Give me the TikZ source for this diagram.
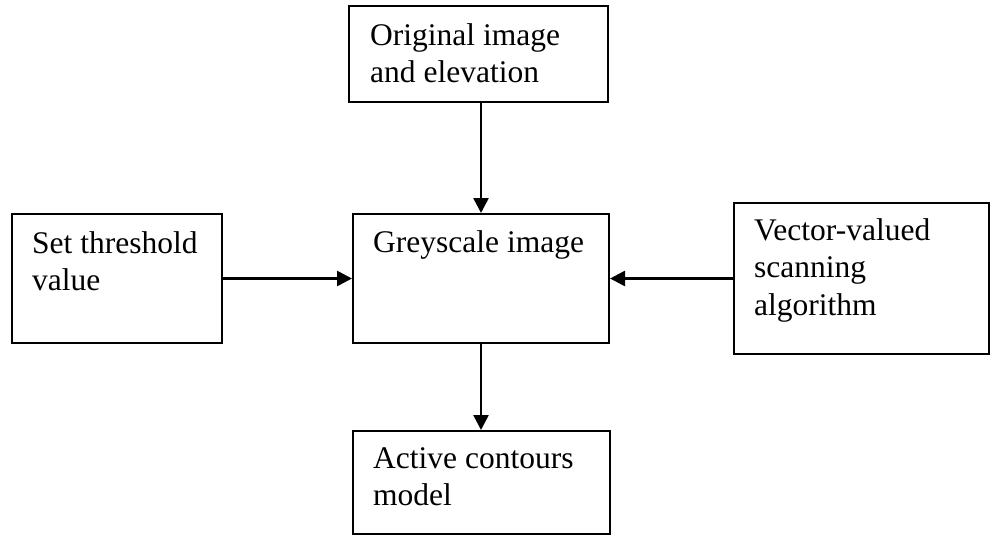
\documentclass[tikz,border=0pt]{standalone}
\usepackage{fontspec}
\setmainfont{Liberation Serif}
\usetikzlibrary{arrows.meta,calc}

% fixed height for the first line so every label sits the same way
\newcommand{\firstline}{\rule{0pt}{25pt}}

\tikzset{
  box/.style={draw=black, line width=2pt, rectangle, inner sep=0pt, anchor=north west},
  boxtext/.style={anchor=north west, inner sep=0pt, align=left,
    font=\fontsize{31.5}{37.5}\selectfont},
  flow/.style={draw=black, line width=2.6pt,
    -{Triangle[length=15pt,width=15pt]}}
}

\begin{document}
\begin{tikzpicture}[x=1pt, y=-1pt]
  \useasboundingbox (0,0) rectangle (990,535);

  % boxes (top-left corner, size)
  \node[box, minimum width=259pt, minimum height=96pt]  (orig)   at (348,5)   {};
  \node[box, minimum width=210pt, minimum height=129pt] (thresh) at (11,213)  {};
  \node[box, minimum width=256pt, minimum height=129pt] (grey)   at (352,213) {};
  \node[box, minimum width=255pt, minimum height=151pt] (vector) at (733,202) {};
  \node[box, minimum width=257pt, minimum height=103pt] (active) at (352,430) {};

  % labels: first baseline 25pt below the anchor
  \node[boxtext] (origT)   at ($(orig.north west)+(22,15)$)   {\firstline Original image\\and elevation};
  \node[boxtext] (threshT) at ($(thresh.north west)+(21,15)$) {\firstline Set threshold\\value};
  \node[boxtext] (greyT)   at ($(grey.north west)+(21,14)$)   {\firstline Greyscale image};
  \node[boxtext] (vectorT) at ($(vector.north west)+(21,13)$) {\firstline Vector-valued\\scanning\\algorithm};
  \node[boxtext] (activeT) at ($(active.north west)+(21,13)$) {\firstline Active contours\\model};

  % connectors
  \draw[flow] (orig.south -| grey.north) -- (grey.north);
  \draw[flow] (thresh.east) -- (grey.west);
  \draw[flow] (vector.west) -- (grey.east);
  \draw[flow] (grey.south) -- (active.north -| grey.south);
\end{tikzpicture}
\end{document}
